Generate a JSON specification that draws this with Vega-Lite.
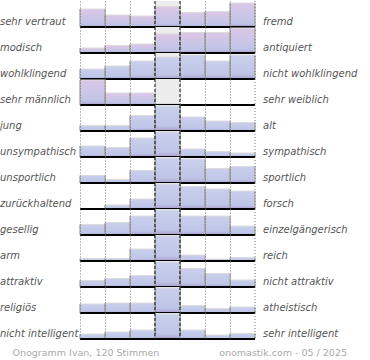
{
  "$schema": "https://vega.github.io/schema/vega-lite/v6.json",
  "padding": 0,
  "background": "white",
  "config": {"view": {"stroke": null}, "font": "DejaVu Sans"},
  "datasets": {
    "labels": [
      {"r": 1, "left": "sehr vertraut", "right": "fremd"},
      {"r": 2, "left": "modisch", "right": "antiquiert"},
      {"r": 3, "left": "wohlklingend", "right": "nicht wohlklingend"},
      {"r": 4, "left": "sehr männlich", "right": "sehr weiblich"},
      {"r": 5, "left": "jung", "right": "alt"},
      {"r": 6, "left": "unsympathisch", "right": "sympathisch"},
      {"r": 7, "left": "unsportlich", "right": "sportlich"},
      {"r": 8, "left": "zurückhaltend", "right": "forsch"},
      {"r": 9, "left": "gesellig", "right": "einzelgängerisch"},
      {"r": 10, "left": "arm", "right": "reich"},
      {"r": 11, "left": "attraktiv", "right": "nicht attraktiv"},
      {"r": 12, "left": "religiös", "right": "atheistisch"},
      {"r": 13, "left": "nicht intelligent", "right": "sehr intelligent"}
    ],
    "votes": [
      {"r": 1, "c": 1, "v": 18}, {"r": 1, "c": 2, "v": 12}, {"r": 1, "c": 3, "v": 11}, {"r": 1, "c": 4, "v": 20.5}, {"r": 1, "c": 5, "v": 14.5}, {"r": 1, "c": 6, "v": 15.5}, {"r": 1, "c": 7, "v": 24},
      {"r": 2, "c": 1, "v": 5}, {"r": 2, "c": 2, "v": 7.5}, {"r": 2, "c": 3, "v": 9}, {"r": 2, "c": 4, "v": 19}, {"r": 2, "c": 5, "v": 20.5}, {"r": 2, "c": 6, "v": 20.5}, {"r": 2, "c": 7, "v": 25},
      {"r": 3, "c": 1, "v": 10}, {"r": 3, "c": 2, "v": 13}, {"r": 3, "c": 3, "v": 18}, {"r": 3, "c": 4, "v": 22}, {"r": 3, "c": 5, "v": 24}, {"r": 3, "c": 6, "v": 18}, {"r": 3, "c": 7, "v": 24},
      {"r": 4, "c": 1, "v": 25}, {"r": 4, "c": 2, "v": 12}, {"r": 4, "c": 3, "v": 12}, {"r": 4, "c": 4, "v": 1.5}, {"r": 4, "c": 5, "v": 0.5}, {"r": 4, "c": 6, "v": 0}, {"r": 4, "c": 7, "v": 0},
      {"r": 5, "c": 1, "v": 5.5}, {"r": 5, "c": 2, "v": 5.5}, {"r": 5, "c": 3, "v": 15.5}, {"r": 5, "c": 4, "v": 25}, {"r": 5, "c": 5, "v": 14}, {"r": 5, "c": 6, "v": 10}, {"r": 5, "c": 7, "v": 8.5},
      {"r": 6, "c": 1, "v": 11}, {"r": 6, "c": 2, "v": 9.5}, {"r": 6, "c": 3, "v": 19}, {"r": 6, "c": 4, "v": 25}, {"r": 6, "c": 5, "v": 8}, {"r": 6, "c": 6, "v": 5.5}, {"r": 6, "c": 7, "v": 4},
      {"r": 7, "c": 1, "v": 7.5}, {"r": 7, "c": 2, "v": 3.5}, {"r": 7, "c": 3, "v": 12.5}, {"r": 7, "c": 4, "v": 25}, {"r": 7, "c": 5, "v": 24}, {"r": 7, "c": 6, "v": 14.5}, {"r": 7, "c": 7, "v": 16.5},
      {"r": 8, "c": 1, "v": 0}, {"r": 8, "c": 2, "v": 4}, {"r": 8, "c": 3, "v": 10}, {"r": 8, "c": 4, "v": 25}, {"r": 8, "c": 5, "v": 22.5}, {"r": 8, "c": 6, "v": 20}, {"r": 8, "c": 7, "v": 18},
      {"r": 9, "c": 1, "v": 10.5}, {"r": 9, "c": 2, "v": 12.5}, {"r": 9, "c": 3, "v": 19}, {"r": 9, "c": 4, "v": 25}, {"r": 9, "c": 5, "v": 19}, {"r": 9, "c": 6, "v": 19}, {"r": 9, "c": 7, "v": 9},
      {"r": 10, "c": 1, "v": 2.5}, {"r": 10, "c": 2, "v": 2.5}, {"r": 10, "c": 3, "v": 12}, {"r": 10, "c": 4, "v": 25}, {"r": 10, "c": 5, "v": 6}, {"r": 10, "c": 6, "v": 2}, {"r": 10, "c": 7, "v": 3.5},
      {"r": 11, "c": 1, "v": 6.5}, {"r": 11, "c": 2, "v": 8.5}, {"r": 11, "c": 3, "v": 11.5}, {"r": 11, "c": 4, "v": 25}, {"r": 11, "c": 5, "v": 18.5}, {"r": 11, "c": 6, "v": 13.5}, {"r": 11, "c": 7, "v": 7},
      {"r": 12, "c": 1, "v": 9}, {"r": 12, "c": 2, "v": 10}, {"r": 12, "c": 3, "v": 10}, {"r": 12, "c": 4, "v": 25}, {"r": 12, "c": 5, "v": 7.5}, {"r": 12, "c": 6, "v": 4.5}, {"r": 12, "c": 7, "v": 6},
      {"r": 13, "c": 1, "v": 5}, {"r": 13, "c": 2, "v": 7}, {"r": 13, "c": 3, "v": 9}, {"r": 13, "c": 4, "v": 25}, {"r": 13, "c": 5, "v": 9}, {"r": 13, "c": 6, "v": 4}, {"r": 13, "c": 7, "v": 5.5}
    ]
  },
  "spacing": 0,
  "vconcat": [
    {
      "data": {"name": "votes"},
      "transform": [
        {"lookup": "r", "from": {"data": {"name": "labels"}, "key": "r", "fields": ["left", "right"]}}
      ],
      "facet": {"row": {"field": "r", "type": "ordinal", "header": null}},
      "spacing": 0,
      "bounds": "flush",
      "spec": {
        "width": 175,
        "height": 26,
        "layer": [
          {
            "transform": [{"filter": "datum.c == 1"}],
            "mark": {"type": "rect", "color": "#ececec"},
            "encoding": {
              "x": {"datum": 4, "type": "ordinal"}
            }
          },
          {
            "transform": [{"filter": "datum.r != 1 && datum.r != 2 && datum.r != 4"}],
            "mark": {
              "type": "bar",
              "stroke": "#dcdcdc",
              "strokeWidth": 1,
              "color": {
                "gradient": "linear", "x1": 0, "y1": 0, "x2": 0, "y2": 1,
                "stops": [
                  {"offset": 0, "color": "#c9cfec"},
                  {"offset": 0.8, "color": "#bfc5e7"},
                  {"offset": 1, "color": "#a99ccb"}
                ]
              }
            },
            "encoding": {
              "x": {
                "field": "c", "type": "ordinal",
                "scale": {"domain": [1, 2, 3, 4, 5, 6, 7], "paddingInner": 0, "paddingOuter": 0},
                "axis": {"labels": false, "ticks": false, "domain": false, "title": null, "grid": true, "gridDash": [1, 2], "gridColor": "#777", "bandPosition": 0}
              },
              "y": {"field": "v", "type": "quantitative", "scale": {"domain": [0, 26], "nice": false}, "axis": null}
            }
          },
          {
            "transform": [{"filter": "datum.r == 1 || datum.r == 2 || datum.r == 4"}],
            "mark": {
              "type": "bar",
              "stroke": "#dcdcdc",
              "strokeWidth": 1,
              "color": {
                "gradient": "linear", "x1": 0, "y1": 0, "x2": 0, "y2": 1,
                "stops": [
                  {"offset": 0, "color": "#ddc6e6"},
                  {"offset": 0.5, "color": "#cbc6e8"},
                  {"offset": 0.85, "color": "#bfc3e6"},
                  {"offset": 1, "color": "#a99ccb"}
                ]
              }
            },
            "encoding": {
              "x": {"field": "c", "type": "ordinal"},
              "y": {"field": "v", "type": "quantitative"}
            }
          },
          {
            "mark": {"type": "rule", "color": "#999", "strokeWidth": 1},
            "encoding": {
              "x": {"field": "c", "type": "ordinal", "bandPosition": 0},
              "y": {"field": "v", "type": "quantitative"},
              "y2": {"datum": 0}
            }
          },
          {
            "mark": {"type": "rule", "color": "#999", "strokeWidth": 1},
            "encoding": {
              "x": {"field": "c", "type": "ordinal", "bandPosition": 1},
              "y": {"field": "v", "type": "quantitative"},
              "y2": {"datum": 0}
            }
          },
          {
            "transform": [{"filter": "datum.c == 1"}],
            "mark": {"type": "rule", "color": "#777", "strokeDash": [1, 2], "strokeWidth": 1},
            "encoding": {"x": {"datum": 7, "type": "ordinal", "bandPosition": 1}}
          },
          {
            "transform": [{"filter": "datum.c == 1"}],
            "mark": {"type": "rule", "color": "#000", "strokeDash": [3, 2], "strokeWidth": 1},
            "encoding": {"x": {"datum": 4, "type": "ordinal", "bandPosition": 0}}
          },
          {
            "transform": [{"filter": "datum.c == 1"}],
            "mark": {"type": "rule", "color": "#000", "strokeDash": [3, 2], "strokeWidth": 1},
            "encoding": {"x": {"datum": 4, "type": "ordinal", "bandPosition": 1}}
          },
          {
            "transform": [{"filter": "datum.c == 1"}],
            "mark": {"type": "rule", "color": "#000", "strokeWidth": 2},
            "encoding": {"y": {"datum": 0, "type": "quantitative"}}
          },
          {
            "transform": [{"filter": "datum.c == 1"}],
            "mark": {"type": "text", "align": "left", "baseline": "alphabetic", "dx": -80, "dy": -2, "fontSize": 10, "fontStyle": "italic", "color": "#555"},
            "encoding": {
              "x": {"datum": 1, "type": "ordinal", "bandPosition": 0},
              "y": {"datum": 0, "type": "quantitative"},
              "text": {"field": "left"}
            }
          },
          {
            "transform": [{"filter": "datum.c == 1"}],
            "mark": {"type": "text", "align": "left", "baseline": "alphabetic", "dx": 8, "dy": -2, "fontSize": 10, "fontStyle": "italic", "color": "#555"},
            "encoding": {
              "x": {"datum": 7, "type": "ordinal", "bandPosition": 1},
              "y": {"datum": 0, "type": "quantitative"},
              "text": {"field": "right"}
            }
          }
        ]
      }
    },
    {
      "width": 175,
      "height": 20,
      "data": {"values": [{"t": 1}]},
      "layer": [
        {
          "mark": {"type": "text", "align": "left", "baseline": "alphabetic", "dx": -80, "dy": 6, "fontSize": 9.5, "color": "#aaa", "text": "Onogramm Ivan, 120 Stimmen"},
          "encoding": {
            "x": {"datum": 1, "type": "ordinal", "bandPosition": 0, "scale": {"domain": [1, 2, 3, 4, 5, 6, 7], "paddingInner": 0, "paddingOuter": 0}, "axis": null}
          }
        },
        {
          "mark": {"type": "text", "align": "right", "baseline": "alphabetic", "dx": 104.5, "dy": 6, "fontSize": 9.5, "color": "#aaa", "text": "onomastik.com - 05 / 2025"},
          "encoding": {
            "x": {"datum": 7, "type": "ordinal", "bandPosition": 1}
          }
        }
      ]
    }
  ]
}
